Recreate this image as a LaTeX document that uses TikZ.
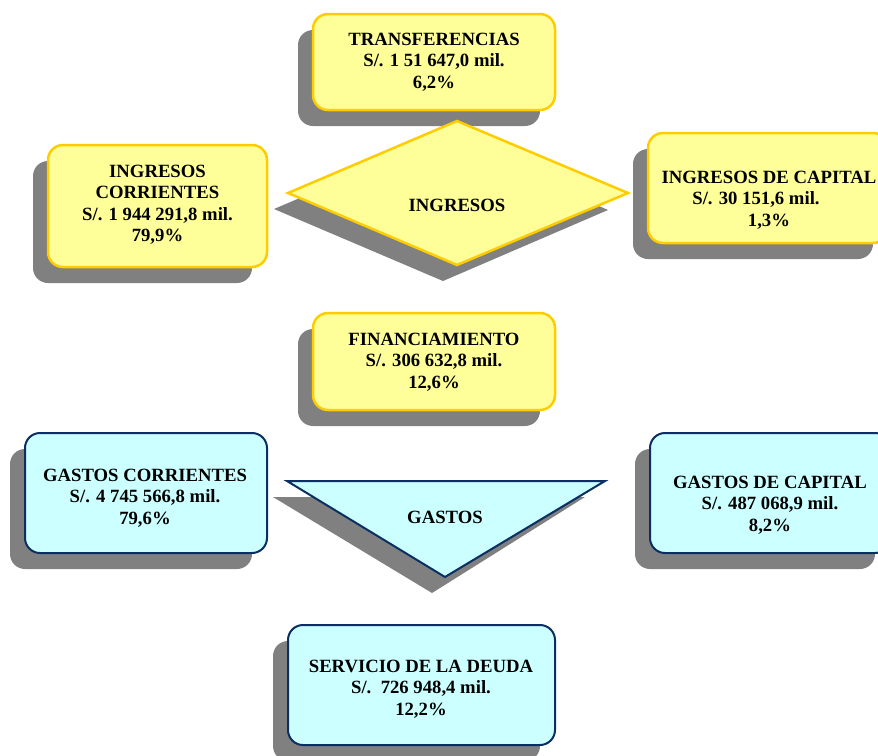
\documentclass[tikz,border=0pt]{standalone}
\usepackage{fontspec}
\setmainfont{Liberation Serif}
\usetikzlibrary{shadows}
\definecolor{yfill}{HTML}{FFFF99}
\definecolor{ydraw}{HTML}{FFCC00}
\definecolor{bfill}{HTML}{CCFFFF}
\definecolor{bdraw}{HTML}{0B2F62}
\definecolor{shadowgray}{HTML}{808080}
\tikzset{
  boxbase/.style={rectangle, rounded corners=15pt, inner sep=0pt,
    drop shadow={shadow xshift=-15pt, shadow yshift=-16pt, fill=shadowgray, opacity=1}},
  ybox/.style={boxbase, fill=yfill, draw=ydraw, line width=2.5pt},
  bbox/.style={boxbase, fill=bfill, draw=bdraw, line width=2pt},
  txt/.style={align=center, inner sep=0pt, font=\fontsize{18.7}{21.5}\selectfont\bfseries},
}
\begin{document}
\begin{tikzpicture}[x=1pt,y=-1pt]
\clip (0,0) rectangle (878,755);
\useasboundingbox (0,0) rectangle (878,755);
% boxes
\node[ybox, minimum width=242pt, minimum height=96pt] (trans) at (434,62) {};
\node[ybox, minimum width=219pt, minimum height=122pt] (ingcorr) at (157.5,206) {};
\node[ybox, minimum width=240pt, minimum height=110pt] (ingcap) at (768,188) {};
\node[ybox, minimum width=242pt, minimum height=97pt] (fin) at (434,361.5) {};
\node[bbox, minimum width=242pt, minimum height=120pt] (gcorr) at (146,493) {};
\node[bbox, minimum width=240pt, minimum height=120pt] (gcap) at (770,493) {};
\node[bbox, minimum width=267pt, minimum height=120pt] (serv) at (421.5,685) {};
% diamond INGRESOS
\fill[shadowgray] (443,137) -- (608,210) -- (443,281) -- (274,209) -- cycle;
\draw[fill=yfill, draw=ydraw, line width=2.5pt, line join=miter]
  (457,121) -- (628,193) -- (457,265) -- (288,193) -- cycle;
% triangle GASTOS
\fill[shadowgray] (273,497) -- (585,497) -- (432,593) -- cycle;
\draw[fill=bfill, draw=bdraw, line width=2pt, line join=miter]
  (287,481) -- (605,481) -- (445,577) -- cycle;
% texts
\node[txt] (ttrans) at (434,62) {TRANSFERENCIAS\\S/. 1 51 647,0 mil.\\6,2\%};
\node[txt] (tingcorr) at (157.5,205) {INGRESOS\\CORRIENTES\\S/. 1 944 291,8 mil.\\79,9\%};
\node[txt] (tingcap) at (769,200) {INGRESOS DE CAPITAL\\S/. 30 151,6 mil.\rule{26pt}{0pt}\\1,3\%};
\node[txt] (tingr) at (457,205) {INGRESOS};
\node[txt] (tfin) at (434,362) {FINANCIAMIENTO\\S/. 306 632,8 mil.\\12,6\%};
\node[txt] (tgcorr) at (145,498) {GASTOS CORRIENTES\\S/. 4 745 566,8 mil.\\79,6\%};
\node[txt] (tgcap) at (770,505) {GASTOS DE CAPITAL\\S/. 487 068,9 mil.\\8,2\%};
\node[txt] (tgast) at (445,517) {GASTOS};
\node[txt] (tserv) at (421,689) {SERVICIO DE LA DEUDA\\S/.\ \ 726 948,4 mil.\\12,2\%};
\end{tikzpicture}
\end{document}
